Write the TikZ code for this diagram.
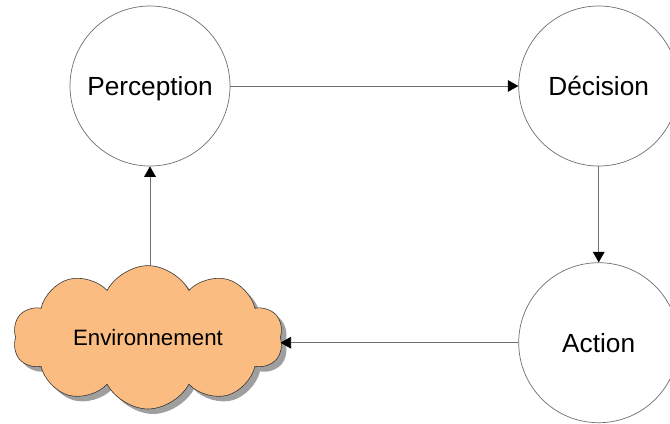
\documentclass[tikz,border=0pt]{standalone}
\usepackage{fontspec}
\setmainfont{Liberation Sans}
\usepackage{xcolor}
\usetikzlibrary{positioning, arrows.meta, shapes.symbols, shadows}

\definecolor{cloudorange}{RGB}{250,188,128}
\definecolor{linegray}{RGB}{110,110,110}

\begin{document}
\begin{tikzpicture}[
	etat/.style={circle, draw=linegray, line width=0.6pt, minimum size=4.8cm, inner sep=0pt, text height=16pt, text depth=0pt, font=\fontsize{22.4}{26}\selectfont},
	nuage/.style={cloud, cloud puffs=10, cloud puff arc=125, cloud ignores aspect, draw=black!80, line width=0.5pt, fill=cloudorange, minimum width=8.1cm, minimum height=4.3cm, text height=13.6pt, text depth=0pt, font=\fontsize{19}{22}\selectfont, drop shadow={shadow xshift=1.5mm, shadow yshift=-1.5mm, fill=gray!75, opacity=1}},
	fleche/.style={draw=linegray, line width=0.6pt, -{Triangle[length=9pt, width=10pt, fill=black, color=black]}}]
	\useasboundingbox (-4.5,-10.11) rectangle (15.6,2.58);
	\node[etat] (per) {Perception};
	\node[etat, right=8.64cm of per] (dec) {Décision};
	\node[etat, below=2.88cm of dec] (act) {Action};
	\node[nuage, below=2.97cm of per, xshift=-0.06cm] (env) {Environnement};
	\draw[fleche] (per) -- (dec);
	\draw[fleche] (dec) -- (act);
	\draw[fleche] (act.west) -- (act.west -| env.east);
	\draw[fleche] (env.north -| per.south) -- (per.south);
\end{tikzpicture}
\end{document}
